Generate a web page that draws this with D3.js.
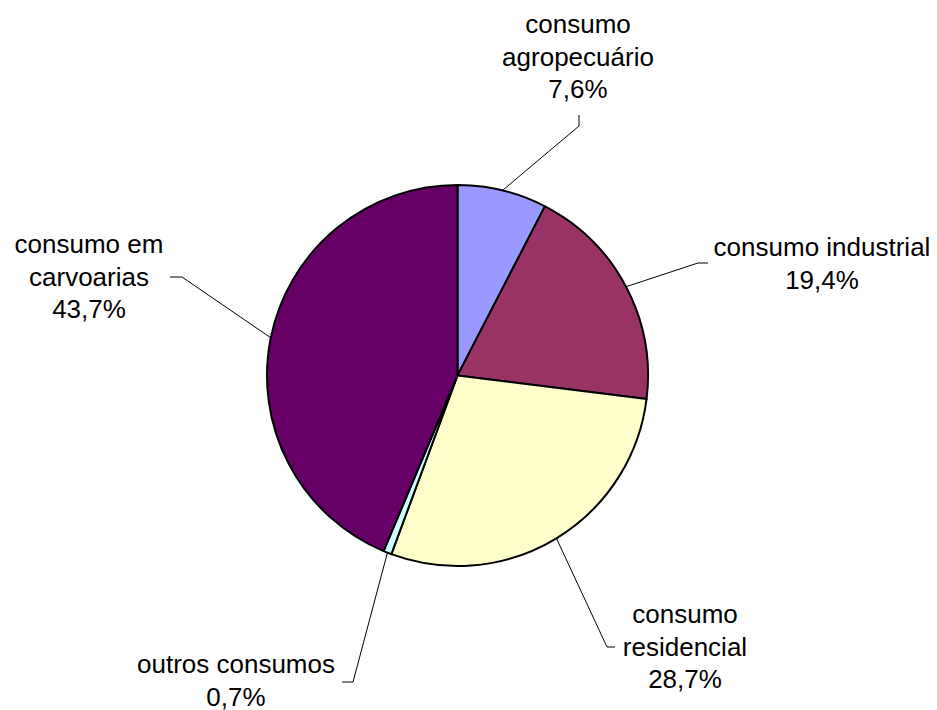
<!DOCTYPE html>
<html>
<head>
<meta charset="utf-8">
<script src="https://cdn.jsdelivr.net/npm/d3@7"></script>
<style>
  html, body { margin: 0; padding: 0; background: #fff; }
  svg { display: block; }
  text { font-family: Arial, "Liberation Sans", sans-serif; fill: #000; }
</style>
</head>
<body>
<svg id="chart" width="937" height="710"></svg>
<script>
// Consumo de lenha por setor (%)
const categories = [
  "consumo agropecuário",
  "consumo industrial",
  "consumo residencial",
  "outros consumos",
  "consumo em carvoarias"
];
const values = [7.6, 19.4, 28.7, 0.7, 43.7];
const valueLabels = ["7,6%", "19,4%", "28,7%", "0,7%", "43,7%"];
// Label text broken into lines as displayed
const labelLines = [
  ["consumo", "agropecuário", "7,6%"],
  ["consumo industrial", "19,4%"],
  ["consumo", "residencial", "28,7%"],
  ["outros consumos", "0,7%"],
  ["consumo em", "carvoarias", "43,7%"]
];
const colors = ["#9999FF", "#993366", "#FFFFCC", "#CCFFFF", "#660066"];

// Layout
const W = 937, H = 710;
const cx = 457.5, cy = 375.5, R = 190.5;
const fontSize = 26, lineGap = 32.5;

// Label anchor (center x, first baseline) and leader path (elbow, end)
const labelLayout = [
  { x: 578, y: 33,  elbow: [579, 126], end: [579, 115] },
  { x: 822, y: 256, elbow: [698, 263], end: [708, 263] },
  { x: 685, y: 623, elbow: [607, 647], end: [615, 647] },
  { x: 236, y: 673, elbow: [353, 682], end: [342, 682] },
  { x: 89,  y: 253, elbow: [182, 277], end: [170, 277] }
];

const svg = d3.select("#chart");

const pie = d3.pie().sort(null).value(d => d).startAngle(0).endAngle(2 * Math.PI);
const arcs = pie(values);
const arc = d3.arc().innerRadius(0).outerRadius(R);

const g = svg.append("g").attr("transform", `translate(${cx},${cy})`);

g.selectAll("path.slice")
  .data(arcs)
  .join("path")
  .attr("class", "slice")
  .attr("d", arc)
  .attr("fill", (d, i) => colors[i])
  .attr("stroke", "#000")
  .attr("stroke-width", 2)
  .attr("stroke-linejoin", "round");

// Leader lines from the mid-angle point on the rim
const leaders = svg.append("g");
arcs.forEach((d, i) => {
  const a = (d.startAngle + d.endAngle) / 2;
  const sx = cx + R * Math.sin(a);
  const sy = cy - R * Math.cos(a);
  const L = labelLayout[i];
  leaders.append("polyline")
    .attr("points", [[sx, sy], L.elbow, L.end].map(p => p.join(",")).join(" "))
    .attr("fill", "none")
    .attr("stroke", "#000")
    .attr("stroke-width", 1);
});

// Labels
const labels = svg.append("g");
labelLines.forEach((lines, i) => {
  const L = labelLayout[i];
  const t = labels.append("text")
    .attr("text-anchor", "middle")
    .attr("font-size", fontSize);
  lines.forEach((ln, k) => {
    t.append("tspan")
      .attr("x", L.x)
      .attr("y", L.y + k * lineGap)
      .text(ln);
  });
});
</script>
</body>
</html>
